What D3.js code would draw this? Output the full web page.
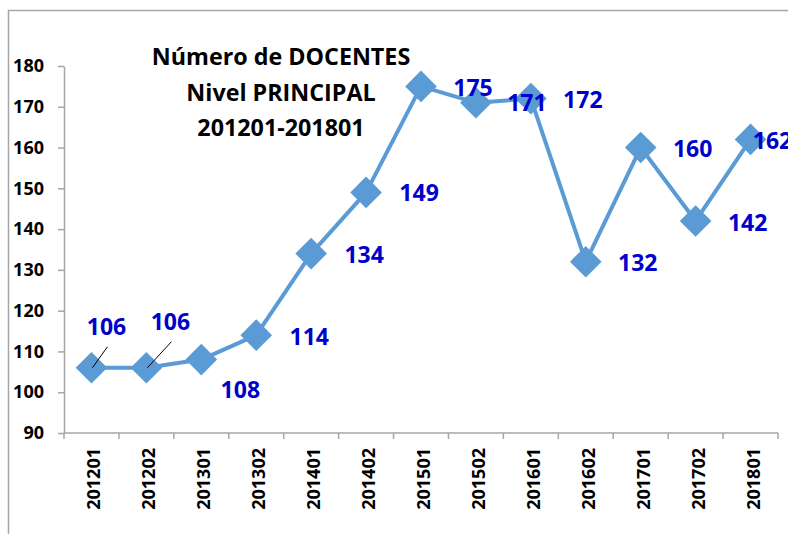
<!DOCTYPE html>
<html>
<head>
<meta charset="utf-8">
<script src="https://cdn.jsdelivr.net/npm/d3@7"></script>
<style>
  body { margin: 0; background: #fff; }
  svg { display: block; font-family: "Open Sans", "Liberation Sans", sans-serif; }
</style>
</head>
<body>
<script>
// Data
let periods = ["201201", "201202", "201301", "201302", "201401", "201402", "201501",
               "201502", "201601", "201602", "201701", "201702", "201801"];
let docentes = [106, 106, 108, 114, 134, 149, 175, 171, 172, 132, 160, 142, 162];
let yTicks = [90, 100, 110, 120, 130, 140, 150, 160, 170, 180];
let titleLines = ["Número de DOCENTES", "Nivel PRINCIPAL", "201201-201801"];

// label placement (pixel offset from each point), like the manual Excel labels
let labelDx = [15, 24, 39, 53, 53, 53, 52, 51, 52, 52, 52, 52, 22];
let labelDy = [-41, -46, 30, 2, 1, 1, 2, 0, 1, 1, 1, 2, 2];
let leaderLines = [0, 1]; // labels that have a small leader line

let width = 788;
let height = 534;
let marginTop = 66;
let marginRight = 10;
let marginBottom = 101;
let marginLeft = 64;

let svg = d3.select("body").append("svg")
    .attr("width", width)
    .attr("height", height)
    .attr("viewBox", [0, 0, width, height]);

// chart frame (only top and left edges are visible)
svg.append("path")
    .attr("d", `M8.5,${height} V10.5 H${width}`)
    .attr("fill", "none")
    .attr("stroke", "#a6a6a6")
    .attr("stroke-width", 1.5);

let x = d3.scaleBand()
    .domain(periods)
    .range([marginLeft, width - marginRight]);

let y = d3.scaleLinear()
    .domain([90, 180])
    .range([height - marginBottom, marginTop]);

// x axis with ticks on category boundaries
let xAxis = svg.append("g")
    .attr("transform", `translate(0,${height - marginBottom})`);
xAxis.append("line")
    .attr("x1", marginLeft).attr("x2", width - marginRight)
    .attr("stroke", "#a6a6a6").attr("stroke-width", 1.5);
xAxis.selectAll(".bt")
    .data(periods.concat(["end"]))
    .join("line")
    .attr("class", "bt")
    .attr("x1", (d, i) => i < periods.length ? x(d) : x.range()[1])
    .attr("x2", (d, i) => i < periods.length ? x(d) : x.range()[1])
    .attr("y1", 0).attr("y2", 6)
    .attr("stroke", "#a6a6a6").attr("stroke-width", 1.5);
xAxis.selectAll(".lbl")
    .data(periods)
    .join("text")
    .attr("class", "lbl")
    .attr("transform", d => `translate(${x(d) + x.bandwidth() / 2 + 9},15) rotate(-90)`)
    .attr("text-anchor", "end")
    .attr("font-size", 18)
    .attr("font-weight", "bold")
    .attr("fill", "#000")
    .text(d => d);

// y axis
svg.append("g")
    .attr("transform", `translate(${marginLeft},0)`)
    .call(d3.axisLeft(y).tickValues(yTicks).tickSize(6).tickPadding(14).tickSizeOuter(0))
    .call(g => g.select(".domain").attr("stroke", "#a6a6a6").attr("stroke-width", 1.5))
    .call(g => g.selectAll(".tick line").attr("stroke", "#a6a6a6").attr("stroke-width", 1.5))
    .call(g => g.selectAll("text")
        .attr("font-size", 18)
        .attr("font-weight", "bold")
        .attr("font-family", "\"Open Sans\", sans-serif")
        .attr("fill", "#000"));

// title
svg.append("text")
    .attr("text-anchor", "middle")
    .attr("font-size", 23.3)
    .attr("font-weight", "bold")
    .attr("fill", "#000")
    .selectAll("tspan")
    .data(titleLines)
    .join("tspan")
    .attr("x", 281)
    .attr("y", (d, i) => 65 + i * 35.5)
    .text(d => d);

let cx = (d, i) => x(periods[i]) + x.bandwidth() / 2;

// line
let line = d3.line()
    .x((d, i) => cx(d, i))
    .y(d => y(d));

svg.append("path")
    .datum(docentes)
    .attr("fill", "none")
    .attr("stroke", "#5b9bd5")
    .attr("stroke-width", 4)
    .attr("stroke-linejoin", "round")
    .attr("d", line);

// diamond markers
svg.selectAll(".marker")
    .data(docentes)
    .join("path")
    .attr("class", "marker")
    .attr("d", d3.symbol(d3.symbolSquare, 500))
    .attr("transform", (d, i) => `translate(${cx(d, i)},${y(d)}) rotate(45)`)
    .attr("fill", "#5b9bd5");

// leader lines
svg.selectAll(".leader")
    .data(leaderLines)
    .join("line")
    .attr("class", "leader")
    .attr("x1", i => cx(docentes[i], i) + 1)
    .attr("y1", i => y(docentes[i]))
    .attr("x2", i => cx(docentes[i], i) + labelDx[i] + 1)
    .attr("y2", i => y(docentes[i]) + labelDy[i] + 20)
    .attr("stroke", "#000")
    .attr("stroke-width", 1);

// value labels
svg.selectAll(".value")
    .data(docentes)
    .join("text")
    .attr("class", "value")
    .attr("x", (d, i) => cx(d, i) + labelDx[i])
    .attr("y", (d, i) => y(d) + labelDy[i])
    .attr("dy", "0.35em")
    .attr("text-anchor", "middle")
    .attr("font-size", 23)
    .attr("font-weight", "bold")
    .attr("fill", "#0000cc")
    .text(d => d);
</script>
</body>
</html>
